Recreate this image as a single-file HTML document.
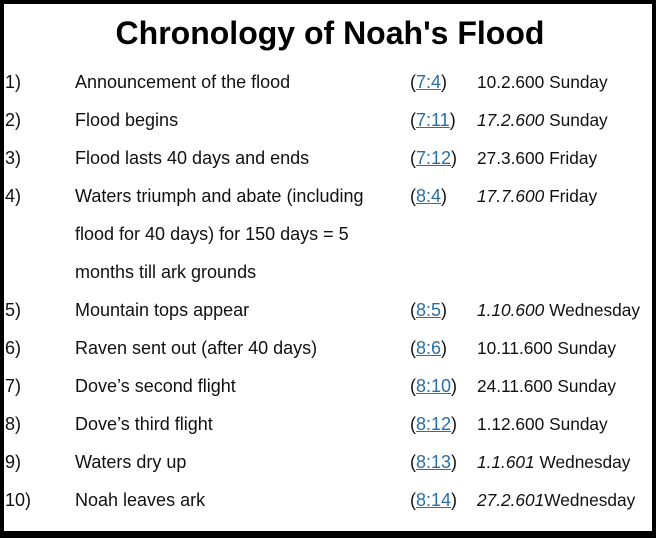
<!DOCTYPE html>
<html><head><meta charset="utf-8"><style>
body{margin:0;width:656px;height:538px;overflow:hidden;background:#fff}
#f{position:absolute;left:0;top:0;width:648px;height:527px;border:4px solid #000;border-bottom-width:7px;background:#fff}
h1{position:absolute;left:0;width:660px;top:15px;margin:0;text-align:center;font:bold 32px "Liberation Sans",sans-serif;color:#000}
.r{position:absolute;font:18px/38px "Liberation Sans",sans-serif;color:#111;white-space:nowrap}
.d{font-size:17.3px}
a{color:#2a6ea6;text-decoration:underline}
i{font-style:italic}
</style></head><body><div id="f"></div>
<h1>Chronology of Noah's Flood</h1>
<div class="r" style="left:5px;top:63px">1)</div><div class="r" style="left:75px;top:63px">Announcement of the flood</div><div class="r" style="left:410px;top:63px">(<a>7:4</a>)</div><div class="r d" style="left:477px;top:63px">10.2.600 Sunday</div>
<div class="r" style="left:5px;top:101px">2)</div><div class="r" style="left:75px;top:101px">Flood begins</div><div class="r" style="left:410px;top:101px">(<a>7:11</a>)</div><div class="r d" style="left:477px;top:101px"><i>17.2.600</i> Sunday</div>
<div class="r" style="left:5px;top:139px">3)</div><div class="r" style="left:75px;top:139px">Flood lasts 40 days and ends</div><div class="r" style="left:410px;top:139px">(<a>7:12</a>)</div><div class="r d" style="left:477px;top:139px">27.3.600 Friday</div>
<div class="r" style="left:5px;top:177px">4)</div><div class="r" style="left:75px;top:177px">Waters triumph and abate (including<br>flood for 40 days) for 150 days = 5<br>months till ark grounds</div><div class="r" style="left:410px;top:177px">(<a>8:4</a>)</div><div class="r d" style="left:477px;top:177px"><i>17.7.600</i> Friday</div>
<div class="r" style="left:5px;top:291px">5)</div><div class="r" style="left:75px;top:291px">Mountain tops appear</div><div class="r" style="left:410px;top:291px">(<a>8:5</a>)</div><div class="r d" style="left:477px;top:291px"><i>1.10.600</i> Wednesday</div>
<div class="r" style="left:5px;top:329px">6)</div><div class="r" style="left:75px;top:329px">Raven sent out (after 40 days)</div><div class="r" style="left:410px;top:329px">(<a>8:6</a>)</div><div class="r d" style="left:477px;top:329px">10.11.600 Sunday</div>
<div class="r" style="left:5px;top:367px">7)</div><div class="r" style="left:75px;top:367px">Dove’s second flight</div><div class="r" style="left:410px;top:367px">(<a>8:10</a>)</div><div class="r d" style="left:477px;top:367px">24.11.600 Sunday</div>
<div class="r" style="left:5px;top:405px">8)</div><div class="r" style="left:75px;top:405px">Dove’s third flight</div><div class="r" style="left:410px;top:405px">(<a>8:12</a>)</div><div class="r d" style="left:477px;top:405px">1.12.600 Sunday</div>
<div class="r" style="left:5px;top:443px">9)</div><div class="r" style="left:75px;top:443px">Waters dry up</div><div class="r" style="left:410px;top:443px">(<a>8:13</a>)</div><div class="r d" style="left:477px;top:443px"><i>1.1.601</i> Wednesday</div>
<div class="r" style="left:5px;top:481px">10)</div><div class="r" style="left:75px;top:481px">Noah leaves ark</div><div class="r" style="left:410px;top:481px">(<a>8:14</a>)</div><div class="r d" style="left:477px;top:481px"><i>27.2.601</i>Wednesday</div>
</body></html>
